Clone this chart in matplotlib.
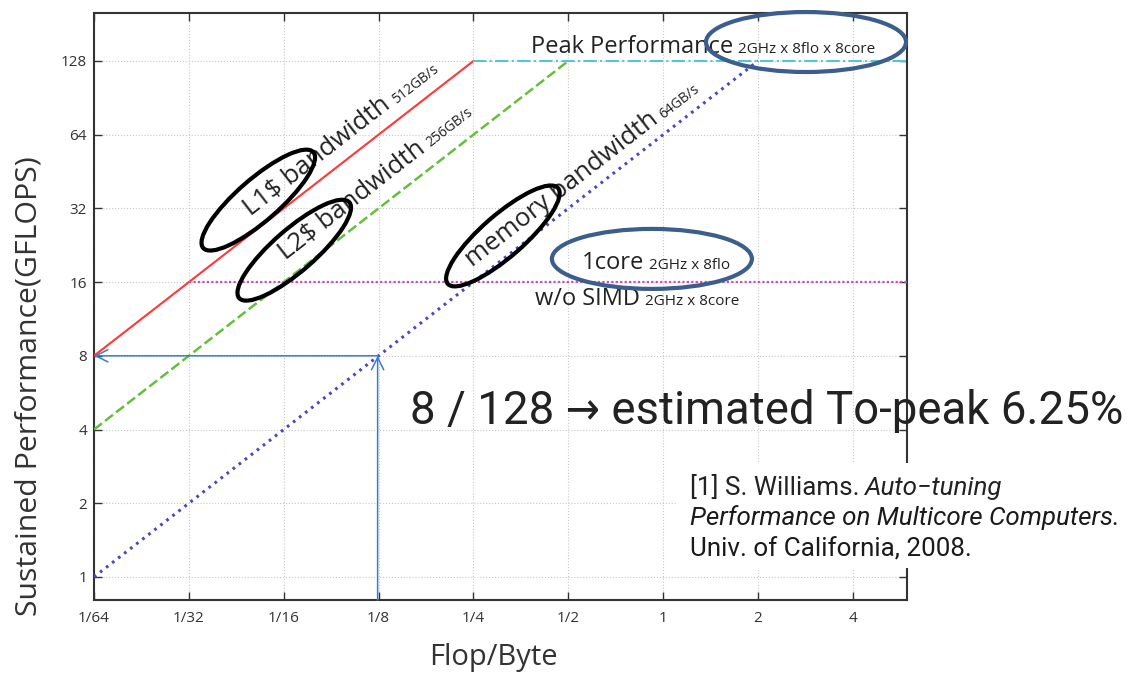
import matplotlib
matplotlib.use('Agg')
import matplotlib.pyplot as plt
import numpy as np
from matplotlib.patches import Ellipse, Rectangle

# --- datos del grafico (roofline) ---
xtick_vals = [1/64, 1/32, 1/16, 1/8, 1/4, 1/2, 1, 2, 4]
xtick_labels = ['1/64', '1/32', '1/16', '1/8', '1/4', '1/2', '1', '2', '4']
ytick_vals = [1, 2, 4, 8, 16, 32, 64, 128]
ytick_labels = ['1', '2', '4', '8', '16', '32', '64', '128']
x_lim = (1/64, 5.94)
y_lim = (0.805, 201)

peak_gflops = 128          # 2GHz x 8flo x 8core
nosimd_gflops = 16         # 2GHz x 8core (sin SIMD)
bw_values = [512, 256, 64]  # GB/s -> GFLOPS por Flop/Byte
bw_names = ['L1$ bandwidth', 'L2$ bandwidth', 'memory bandwidth']
bw_small = ['512GB/s', '256GB/s', '64GB/s']
bw_colors = ['#ff3838', '#66bf3c', '#4848c0']
bw_styles = ['-', (0, (4, 1.6)), (0, (0.9, 1.6))]
bw_widths = [1.5, 1.8, 2.2]
label_x = [0.0492, 0.0633, 0.248]   # donde empieza cada texto rotado
label_y = [29.6, 19.7, 18.4]

example_x = 1/8      # intensidad del ejemplo
example_y = 8        # rendimiento estimado

# elipses de anotacion (centro en coordenadas de datos)
black_ell_x = [0.0519, 0.0675, 0.310]
black_ell_y = [34.6, 21.6, 24.7]
blue_ell_x = [2.84, 0.921]
blue_ell_y = [153, 19.9]

plt.rcParams['font.family'] = ['Open Sans', 'DejaVu Sans']
fig = plt.figure(figsize=(11.34, 6.73), dpi=100)
ax = fig.add_axes([94/1134, 73/673, 813/1134, 587/673])

ax.set_xscale('log', base=2)
ax.set_yscale('log', base=2)
ax.set_xlim(*x_lim)
ax.set_ylim(*y_lim)
ax.set_xticks(xtick_vals)
ax.set_xticklabels(xtick_labels, fontsize=11, color='#333333')
ax.set_yticks(ytick_vals)
ax.set_yticklabels(ytick_labels, fontsize=11, color='#333333')
ax.minorticks_off()
ax.tick_params(direction='in', top=True, right=True, length=6, width=1, color='#333333')
ax.tick_params(axis='x', pad=8)
ax.tick_params(axis='y', pad=5)
ax.grid(True, color='#c8c8c8', linestyle=':', linewidth=0.8)
for s in ax.spines.values():
    s.set_color('#333333')
    s.set_linewidth(1.5)

ax.set_xlabel('Flop/Byte', fontsize=21, color='#333333', va='center')
ax.set_ylabel('Sustained Performance(GFLOPS)', fontsize=21.8, color='#333333', va='center')
ax.xaxis.set_label_coords((493 - 94) / 813, -(658 - 600) / 587)
ax.yaxis.set_label_coords((29 - 94) / 813, (600 - 386) / 587)

# techos de ancho de banda
for bw, c, ls, lw in zip(bw_values, bw_colors, bw_styles, bw_widths):
    xs = np.array([x_lim[0], peak_gflops / bw])
    ax.plot(xs, bw * xs, color=c, linestyle=ls, linewidth=lw, zorder=3)

# techo de pico y sin SIMD
ax.plot([peak_gflops / bw_values[0], x_lim[1]], [peak_gflops, peak_gflops],
        color='#55c5d5', linestyle='-.', linewidth=1.5, zorder=3)
ax.plot([nosimd_gflops / bw_values[0], x_lim[1]], [nosimd_gflops, nosimd_gflops],
        color='#c850b8', linestyle=(0, (1, 1)), linewidth=1.6, zorder=3)

# flechas del ejemplo
arr = dict(arrowstyle='->', color='#3a7ccc', lw=1.1, mutation_scale=22, shrinkA=0, shrinkB=0)
ax.annotate('', xy=(x_lim[0], example_y), xytext=(example_x, example_y), arrowprops=arr, zorder=4)
ax.annotate('', xy=(example_x * 0.993, example_y), xytext=(example_x * 0.993, y_lim[0]),
            arrowprops=arr, zorder=4)

renderer = fig.canvas.get_renderer()


def two_part(target, x, y, big, small, angle, big_fs, small_fs, trans, gap=5,
             big_kw=None, small_kw=None):
    #Texto grande seguido de un texto chico sobre la misma linea base
    big_kw = big_kw or {}
    small_kw = small_kw or {}
    t = target.text(x, y, big, fontsize=big_fs, ha='left', va='baseline', rotation=0,
                    rotation_mode='anchor', transform=trans, color='#222222', **big_kw)
    w = t.get_window_extent(renderer=renderer).width + gap
    t.set_rotation(angle)
    px, py = trans.transform((x, y))
    a = np.radians(angle)
    sx, sy = trans.inverted().transform((px + w * np.cos(a), py + w * np.sin(a)))
    target.text(sx, sy, small, fontsize=small_fs, ha='left', va='baseline', rotation=angle,
                rotation_mode='anchor', transform=trans, color='#222222', **small_kw)


p0 = ax.transData.transform((1/64, 1))
p1 = ax.transData.transform((1, 64))
line_angle = np.degrees(np.arctan2(p1[1] - p0[1], p1[0] - p0[0]))

for name, small, lx, ly in zip(bw_names, bw_small, label_x, label_y):
    two_part(ax, lx, ly, name, small, line_angle, 18.5, 10, ax.transData)

two_part(ax, 0.380, 138, 'Peak Performance', '2GHz x 8flo x 8core', 0, 17, 11, ax.transData)
two_part(ax, 0.552, 18.1, '1core', '2GHz x 8flo', 0, 17, 11, ax.transData)
two_part(ax, 0.391, 12.9, 'w/o SIMD', '2GHz x 8core', 0, 17, 11, ax.transData)

# elipses
for ex, ey in zip(black_ell_x, black_ell_y):
    cx, cy = ax.transData.transform((ex, ey))
    ax.add_artist(Ellipse((cx, cy), 146, 42, angle=41, transform=None, fill=False,
                          edgecolor='black', linewidth=3, zorder=5, clip_on=False))
for ex, ey in zip(blue_ell_x, blue_ell_y):
    cx, cy = ax.transData.transform((ex, ey))
    ax.add_artist(Ellipse((cx, cy), 200, 60, angle=0, transform=None, fill=False,
                          edgecolor='#3c5e8c', linewidth=3, zorder=5, clip_on=False))

# texto grande, ajustado al ancho de la referencia
big = fig.text(410/1134, 1 - 424/673, '8 / 128 \u2192 estimated To-peak 6.25%', fontsize=35,
               family=['Noto Sans Condensed', 'Liberation Sans Narrow', 'DejaVu Sans Condensed',
                       'Roboto', 'DejaVu Sans'],
               fontstretch='condensed', color='#222222', ha='left', va='baseline', zorder=7)
bw_big = big.get_window_extent(renderer=renderer).width
big.set_fontsize(35 * min(1.0, 712 / bw_big))

# cita
fig.add_artist(Rectangle((677/1134, 1 - 568/673), 1 - 677/1134, 105/673,
                         transform=fig.transFigure, facecolor='white', edgecolor='none', zorder=5))
cite_font = ['Roboto', 'DejaVu Sans']
l2 = fig.text(690/1134, 1 - 525/673, 'Performance on Multicore Computers.', fontsize=15, style='italic',
              family=cite_font, color='#1a1a1a', ha='left', va='baseline', zorder=6)
cite_fs = 15 * 430 / l2.get_window_extent(renderer=renderer).width
l2.set_fontsize(cite_fs)
two_part(fig, 690/1134, 1 - 495/673, '[1] S. Williams.', 'Auto\u2212tuning', 0, cite_fs, cite_fs,
         fig.transFigure, big_kw=dict(family=cite_font, zorder=6),
         small_kw=dict(family=cite_font, style='italic', zorder=6))
fig.text(690/1134, 1 - 557/673, 'Univ. of California, 2008.', fontsize=cite_fs,
         family=cite_font, color='#1a1a1a', ha='left', va='baseline', zorder=6)

fig.savefig('out.png', dpi=100)
